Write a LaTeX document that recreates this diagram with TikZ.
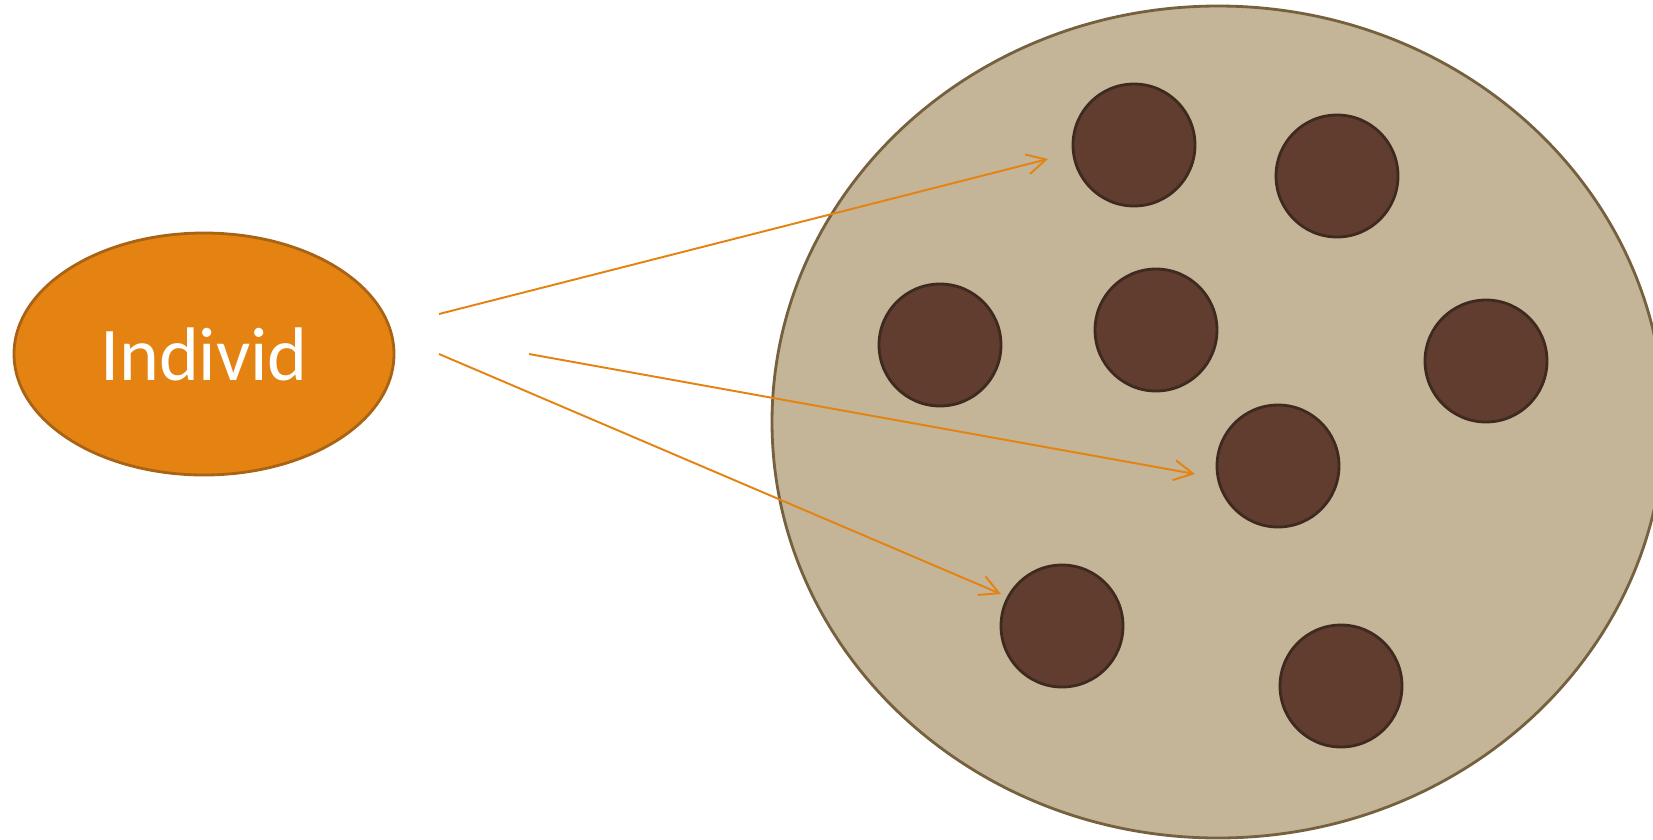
\documentclass[tikz,border=0pt]{standalone}
\usepackage{fontspec}
\setsansfont{Carlito}
\usepackage{tikz}
\usetikzlibrary{arrows.meta, positioning, shapes.geometric}
\definecolor{indFill}{RGB}{228,131,18}
\definecolor{indLine}{RGB}{168,99,20}
\definecolor{groupFill}{RGB}{196,180,152}
\definecolor{groupLine}{RGB}{118,97,63}
\definecolor{memberFill}{RGB}{97,61,47}
\definecolor{memberLine}{RGB}{63,42,31}
\tikzset{every picture/.style={/utils/exec={\sffamily}}}

\begin{document}
\begin{tikzpicture}[x=0.1mm, y=-0.1mm, >={Straight Barb[length=5.4pt, width=5.7pt]},
    member/.style={circle, fill=memberFill, draw=memberLine, line width=0.8pt, minimum size=12.2mm, inner sep=0pt},
    link/.style={->, draw=indFill, line width=0.55pt}]
        \useasboundingbox (0,0) rectangle (1653,839);
        % Nodes
        \node[ellipse, fill=groupFill, draw=groupLine, line width=0.8pt, minimum width=89.2mm, minimum height=83.2mm] (G) at (1218,422) {};
        \node[ellipse, fill=indFill, draw=indLine, line width=0.8pt, minimum width=38mm, minimum height=24.2mm, text=white, font=\fontsize{21.6}{26}\selectfont] (I) at (204,354) {Individ};

        \node[member] (1) at (1134,145) {};
        \node[member] (2) at (1337,176) {};
        \node[member] (3) at (940,345) {};
        \node[member] (4) at (1156,330) {};
        \node[member] (5) at (1486,361) {};
        \node[member] (6) at (1278,466) {};
        \node[member] (7) at (1062,626) {};
        \node[member] (8) at (1341,686) {};

        % Arrow ends
        \coordinate (s1) at (439,314);
        \coordinate (s2) at (529,354);
        \coordinate (s3) at (439,354);
        \coordinate (t1) at (1048,159);
        \coordinate (t2) at (1195,474);
        \coordinate (t3) at (1001,594);

        % Directed edges
        \draw[link] (s1) -- (t1);
        \draw[link] (s2) -- (t2);
        \draw[link] (s3) -- (t3);
    \end{tikzpicture}
\end{document}
